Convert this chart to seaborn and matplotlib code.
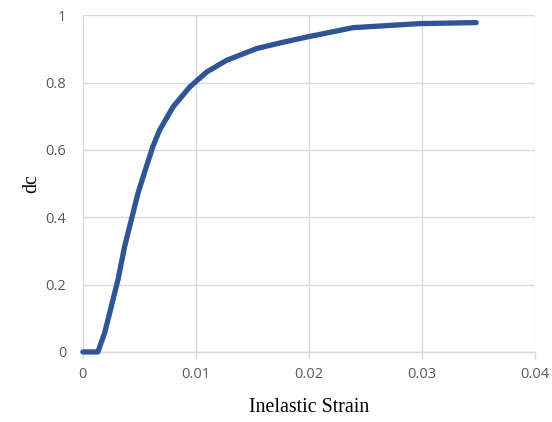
import seaborn as sns
import matplotlib.pyplot as plt
import pandas as pd

# values
strain = [0.0, 0.00133, 0.00193, 0.00252, 0.00311, 0.0037, 0.00429, 0.00488,
          0.00562, 0.0062, 0.0068, 0.00799, 0.00947, 0.01095, 0.01272,
          0.01539, 0.0175, 0.0198, 0.0239, 0.0298, 0.0348]
dc = [0.0, 0.0, 0.056, 0.135, 0.214, 0.313, 0.392, 0.471,
      0.55, 0.61, 0.659, 0.728, 0.787, 0.831, 0.866,
      0.901, 0.918, 0.935, 0.963, 0.975, 0.978]
xticks = [0, 0.01, 0.02, 0.03, 0.04]
yticks = [0, 0.2, 0.4, 0.6, 0.8, 1]

df = pd.DataFrame({"Inelastic Strain": strain, "dc": dc})

sns.set_theme(style="white")
fig = plt.figure(figsize=(5.52, 4.22), dpi=100)
ax = fig.add_axes([0.150, 0.166, 0.819, 0.798])

sns.lineplot(data=df, x="Inelastic Strain", y="dc", ax=ax, color="#2F5597",
             linewidth=3.8, solid_capstyle="round", solid_joinstyle="round",
             zorder=3)

ax.set_xlim(0, 0.04)
ax.set_ylim(0, 1)
ax.set_xticks(xticks)
ax.set_xticklabels(["0", "0.01", "0.02", "0.03", "0.04"])
ax.set_yticks(yticks)
ax.set_yticklabels(["0", "0.2", "0.4", "0.6", "0.8", "1"])
ax.grid(True, color="#d9d9d9", linewidth=1)
ax.set_axisbelow(True)
for s in ["top", "right", "left"]:
    ax.spines[s].set_visible(False)
ax.spines["bottom"].set_color("#d9d9d9")
ax.spines["bottom"].set_linewidth(1)
ax.spines["bottom"].set_zorder(1)
ax.tick_params(axis="x", length=5, color="#d9d9d9", width=1, pad=6,
               labelsize=10.5, labelcolor="#595959", bottom=True)
ax.tick_params(axis="y", length=0, pad=12, labelsize=10.5, labelcolor="#595959")
for lab in ax.get_xticklabels() + ax.get_yticklabels():
    lab.set_family("Open Sans")

ax.set_xlabel("Inelastic Strain", family="Liberation Serif", fontsize=14.3,
              color="black", labelpad=11)
ax.set_ylabel("dc", family="Liberation Serif", fontsize=14.3, color="black",
              labelpad=3)
for line in ax.lines:
    line.set_clip_on(False)

fig.savefig("out.png", dpi=100)
